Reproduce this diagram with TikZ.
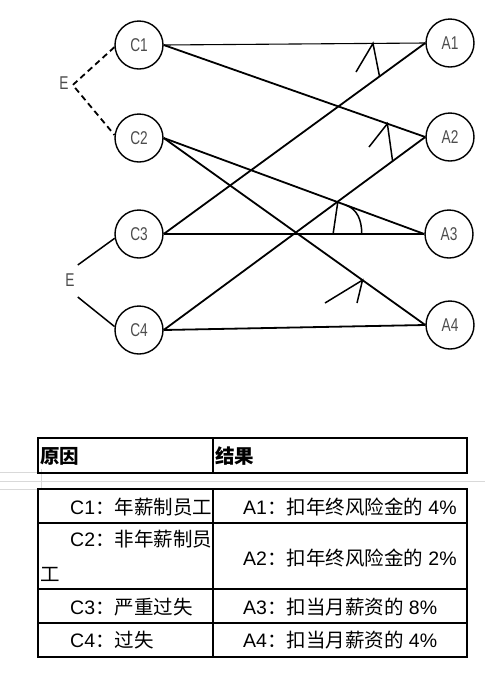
\documentclass[tikz,border=0pt]{standalone}
\usepackage{fontspec}
\setmainfont{Liberation Sans}
\newfontfamily\cjk{Noto Sans CJK SC}
\usetikzlibrary{calc}
\newcommand{\lab}[1]{\scalebox{0.74}[1]{#1}}

\begin{document}
\begin{tikzpicture}[x=1pt,y=1pt,yscale=-1,xscale=1,
        cnode/.style={draw,circle,line width=1.4pt,minimum size=48pt,inner sep=0pt,font=\fontsize{18.5}{18.5}\selectfont,text=black!70},
        elab/.style={inner sep=2pt,font=\fontsize{18.5}{18.5}\selectfont,text=black!70},
        link/.style={line width=1.8pt},
        thinlink/.style={line width=1.1pt},
        hook/.style={line width=1.5pt},
        cell/.style={anchor=west,inner sep=0pt,font=\fontsize{19.5}{35}\selectfont},
        sheetline/.style={draw=black!15,line width=0.8pt},
        border/.style={line width=1.6pt}]
        \useasboundingbox (0,0) rectangle (485,673);

        % causes and results
        \draw (139,45) node [cnode] (C1) {\lab{C1}};
        \draw (139,138) node [cnode] (C2) {\lab{C2}};
        \draw (139,234) node [cnode] (C3) {\lab{C3}};
        \draw (139,330) node [cnode] (C4) {\lab{C4}};
        \draw (450,43) node [cnode] (A1) {\lab{A1}};
        \draw (450,137) node [cnode] (A2) {\lab{A2}};
        \draw (449,234) node [cnode] (A3) {\lab{A3}};
        \draw (450,325) node [cnode] (A4) {\lab{A4}};
        \draw (64,83) node [elab] (E1) {\lab{E}};
        \draw (70,280) node [elab] (E2) {\lab{E}};

        \draw [link,dashed,dash pattern=on 6pt off 4pt] (C1.185) -- ($(E1.east)+(2,2)$) -- (C2.173);
        \draw [hook] (C3.190) -- ($(E2.east)+(1,-15)$);
        \draw [hook] (C4.172) -- ($(E2.east)+(1,17)$);

        \draw [thinlink] (C1.east) -- (A1.west);
        \draw [link] (C1.east) -- (A2.west);
        \draw [link] (C2.east) -- (A3.west);
        \draw [link] (C2.east) -- (A4.west);
        \draw [link] (C3.east) -- (A1.west);
        \draw [thinlink] (C3.east) -- (A3.west);
        \draw [link] (C4.east) -- (A2.west);
        \draw [link] (C4.east) -- (A4.west);

        % hand drawn marks
        \coordinate (m1) at ($(C1.east)!0.80!(A1.west)$);
        \coordinate (m1r) at ($(C3.east)!0.825!(A1.west)$);
        \coordinate (m1l) at (356,72);
        \draw [hook] (m1l) -- (m1) -- (m1r);
        \coordinate (m2) at ($(C1.east)!0.855!(A2.west)$);
        \coordinate (m2r) at ($(C4.east)!0.875!(A2.west)$);
        \coordinate (m2l) at (369,147);
        \draw [hook] (m2l) -- (m2) -- (m2r);
        \coordinate (m3) at ($(C2.east)!0.668!(A3.west)$);
        \coordinate (m3b) at ($(C3.east)!0.65!(A3.west)$);
        \coordinate (m3s) at ($(C2.east)!0.70!(A3.west)$);
        \coordinate (m3e) at ($(C3.east)!0.76!(A3.west)$);
        \draw [hook] (m3) -- (m3b);
        \draw [hook] (m3s) .. controls +(11,4) and +(0,-14) .. (m3e);
        \coordinate (m4) at ($(C2.east)!0.76!(A4.west)$);
        \coordinate (m4l) at (325,303);
        \coordinate (m4r) at (357,303);
        \draw [hook] (m4l) -- (m4) -- (m4r);

        % sheet grid
        \draw [sheetline] (0,472) -- (38,472);
        \draw [sheetline] (0,481) -- (485,481);
        \draw [sheetline] (0,489) -- (38,489);
        \draw [sheetline] (41,469) -- (41,490);

        % tables
        \draw [border] (38,438) rectangle (467,473);
        \draw [border] (213,438) -- (213,473);
        \draw [border] (38,489) rectangle (467,657);
        \foreach \y in {523,589,623}
            \draw [border] (38,\y) -- (467,\y);
        \draw [border] (213,489) -- (213,657);

        \node [cell] (h1) at (40,456) {\cjk\bfseries 原因};
        \node [cell] (h2) at (215,456) {\cjk\bfseries 结果};
        \node [cell] (c1) at (70,507) {C1{\cjk ：年薪制员工}};
        \node [cell,align=left] (c2) at (40,556) {\hspace*{30pt}C2{\cjk ：非年薪制员}\\{\cjk 工}};
        \node [cell] (c3) at (70,607) {C3{\cjk ：严重过失}};
        \node [cell] (c4) at (70,640) {C4{\cjk ：过失}};
        \node [cell] (a1) at (243,507) {A1{\cjk ：扣年终风险金的} 4\%};
        \node [cell] (a2) at (243,558) {A2{\cjk ：扣年终风险金的} 2\%};
        \node [cell] (a3) at (243,607) {A3{\cjk ：扣当月薪资的} 8\%};
        \node [cell] (a4) at (243,640) {A4{\cjk ：扣当月薪资的} 4\%};
\end{tikzpicture}
\end{document}
